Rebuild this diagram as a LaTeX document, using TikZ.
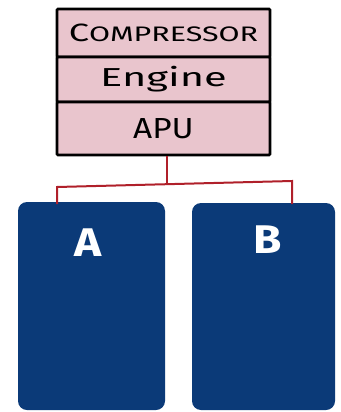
\documentclass[tikz,border=0pt]{standalone}
\usepackage{fontspec}
\usepackage{graphicx}
\setmainfont{Fira Sans}
\usetikzlibrary{calc}
\definecolor{cellpink}{HTML}{E9C5CD}
\definecolor{navy}{HTML}{0B3A78}
\definecolor{wire}{HTML}{B0202A}
\tikzset{
  cell/.style={draw=black, line width=2.8pt, fill=cellpink, minimum width=213pt, inner sep=0pt, rounded corners=1pt},
  tank/.style={fill=navy, rounded corners=9pt, inner sep=0pt},
  tanklabel/.style={text=white, font=\fontsize{40}{40}\selectfont\bfseries},
  wireline/.style={draw=wire, line width=2pt},
}
\begin{document}
\begin{tikzpicture}[x=1pt,y=-1pt]
\useasboundingbox (0,0) rectangle (340,412);
% pipes
\coordinate (j) at (167,184);
\coordinate (aL) at (57,204);
\coordinate (aT) at (57,187);
\coordinate (bT) at (292,181);
\coordinate (bR) at (292,204);
% tanks
\node[tank, minimum width=147pt, minimum height=208pt] (tankA) at (91.5,306) {};
\node[tank, minimum width=143pt, minimum height=207pt] (tankB) at (263.5,306.5) {};
\node[tanklabel] (la) at (88,243) {\scalebox{1.15}[1]{A}};
\node[tanklabel] (lb) at (268,240) {\scalebox{1.15}[1]{B}};
% stack
\node[cell, minimum height=48pt] (comp) at (163.5,33) {\scalebox{1.45}[1]{\fontsize{25}{25}\selectfont C\fontsize{21}{21}\selectfont OMPRESSOR}};
\node[cell, minimum height=45pt] (eng) at (163.5,79.5) {\scalebox{1.6}[1]{\fontsize{26}{26}\selectfont Engine}};
\node[cell, minimum height=53pt] (apu) at (163.5,128.5) {\scalebox{1.15}[1]{\fontsize{29}{29}\selectfont APU}};
\draw[wireline] (apu.south -| j) -- (j);
\draw[wireline] (aL) -- (aT) -- (bT) -- (bR);
\end{tikzpicture}
\end{document}
